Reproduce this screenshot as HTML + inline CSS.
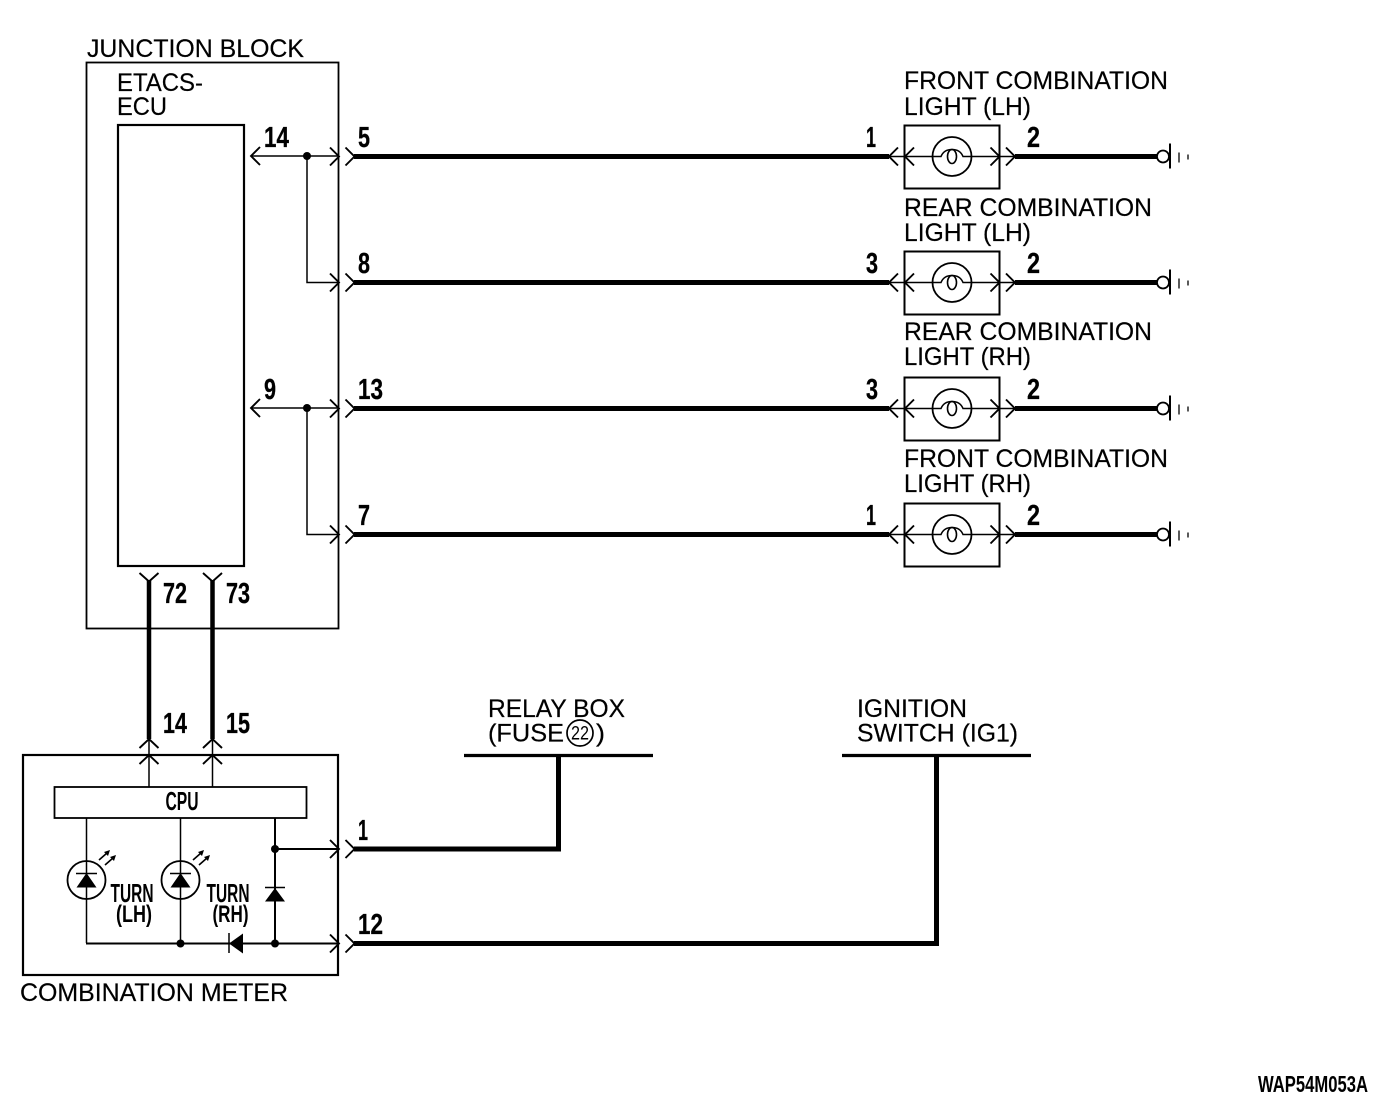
<!DOCTYPE html>
<html><head><meta charset="utf-8"><style>
html,body{margin:0;padding:0;background:#fff}
svg{display:block}
.t{font-family:"Liberation Sans",sans-serif;font-size:25px;fill:#000;stroke:#000;stroke-width:.2}
.n{font-family:"Liberation Sans",sans-serif;font-size:28.500px;font-weight:bold;fill:#000;stroke:#000;stroke-width:.3}
.s{font-family:"Liberation Sans",sans-serif;font-size:26px;font-weight:bold;fill:#000}
</style></head><body>
<svg width="1392" height="1114" viewBox="0 0 1392 1114" xmlns="http://www.w3.org/2000/svg">
<defs>
<g id="ar" fill="none" stroke="#000" stroke-width="1.900"><path d="M-9-9L0 0L-9 9"/></g>
<g id="al" fill="none" stroke="#000" stroke-width="1.900"><path d="M9-9L0 0L9 9"/></g>
<g id="lamp">
<rect x="904.500" y="-31" width="95" height="63" fill="#fff" stroke="#000" stroke-width="2"/>
<path d="M889 0H1015" stroke="#000" stroke-width="1.400" fill="none"/>
<circle cx="952" cy="0" r="19.500" fill="#fff" stroke="#000" stroke-width="1.800"/>
<path d="M932.500 0H941C943-5 947-7 952-7C957-7 961-5 963 0H971.500" fill="none" stroke="#000" stroke-width="1.500"/>
<ellipse cx="952" cy="0" rx="4.500" ry="7" fill="none" stroke="#000" stroke-width="1.600"/>
<use href="#al" x="889"/><use href="#al" x="905"/><use href="#ar" x="999.500"/><use href="#ar" x="1015"/>
<path d="M1015 0H1158" stroke="#000" stroke-width="5"/>
<circle cx="1163" cy="0" r="6" fill="#fff" stroke="#000" stroke-width="1.800"/>
<path d="M1170-13V12" stroke="#000" stroke-width="2"/>
<path d="M1179-4V6M1188-2V3" stroke="#000" stroke-width="1.300"/>
</g>
<g id="wire">
<use href="#ar" x="339"/><use href="#ar" x="354.500"/>
<path d="M354 0H889" stroke="#000" stroke-width="5"/>
</g>
</defs>
<rect width="1392" height="1114" fill="#fff"/>

<rect x="86.500" y="62.500" width="252" height="566" fill="none" stroke="#000" stroke-width="1.800"/>
<rect x="118" y="125" width="126" height="441" fill="none" stroke="#000" stroke-width="2.200"/>
<text class="t" x="87" y="57" textLength="217" lengthAdjust="spacingAndGlyphs">JUNCTION BLOCK</text>
<text class="t" x="117" y="91" textLength="86" lengthAdjust="spacingAndGlyphs">ETACS-</text>
<text class="t" x="117" y="115" textLength="50" lengthAdjust="spacingAndGlyphs">ECU</text>

<g stroke="#000" stroke-width="1.500" fill="none">
<path d="M251 156H339M307 156V282.500H339M251 408H339M307 408V534.500H339"/>
</g>
<circle cx="307" cy="156" r="4"/><circle cx="307" cy="408" r="4"/>
<use href="#al" x="251" y="156"/><use href="#al" x="251" y="408"/>

<use href="#wire" y="156.500"/><use href="#wire" y="282.500"/><use href="#wire" y="408.500"/><use href="#wire" y="534.500"/>
<use href="#lamp" y="156.500"/><use href="#lamp" y="282.500"/><use href="#lamp" y="408.500"/><use href="#lamp" y="534.500"/>

<text class="n" x="264" y="147" textLength="25" lengthAdjust="spacingAndGlyphs">14</text>
<text class="n" x="358" y="147" textLength="12" lengthAdjust="spacingAndGlyphs">5</text>
<text class="n" x="358" y="273" textLength="12" lengthAdjust="spacingAndGlyphs">8</text>
<text class="n" x="264" y="399" textLength="12" lengthAdjust="spacingAndGlyphs">9</text>
<text class="n" x="358" y="399" textLength="25" lengthAdjust="spacingAndGlyphs">13</text>
<text class="n" x="358" y="525" textLength="12" lengthAdjust="spacingAndGlyphs">7</text>
<text class="n" x="866" y="147" textLength="10" lengthAdjust="spacingAndGlyphs">1</text>
<text class="n" x="866" y="273" textLength="12" lengthAdjust="spacingAndGlyphs">3</text>
<text class="n" x="866" y="399" textLength="12" lengthAdjust="spacingAndGlyphs">3</text>
<text class="n" x="866" y="525" textLength="10" lengthAdjust="spacingAndGlyphs">1</text>
<text class="n" x="1027" y="147" textLength="13" lengthAdjust="spacingAndGlyphs">2</text>
<text class="n" x="1027" y="273" textLength="13" lengthAdjust="spacingAndGlyphs">2</text>
<text class="n" x="1027" y="399" textLength="13" lengthAdjust="spacingAndGlyphs">2</text>
<text class="n" x="1027" y="525" textLength="13" lengthAdjust="spacingAndGlyphs">2</text>

<text class="t" x="904" y="89" textLength="264" lengthAdjust="spacingAndGlyphs">FRONT COMBINATION</text>
<text class="t" x="904" y="115" textLength="127" lengthAdjust="spacingAndGlyphs">LIGHT (LH)</text>
<text class="t" x="904" y="216" textLength="248" lengthAdjust="spacingAndGlyphs">REAR COMBINATION</text>
<text class="t" x="904" y="241" textLength="127" lengthAdjust="spacingAndGlyphs">LIGHT (LH)</text>
<text class="t" x="904" y="340" textLength="248" lengthAdjust="spacingAndGlyphs">REAR COMBINATION</text>
<text class="t" x="904" y="365" textLength="127" lengthAdjust="spacingAndGlyphs">LIGHT (RH)</text>
<text class="t" x="904" y="467" textLength="264" lengthAdjust="spacingAndGlyphs">FRONT COMBINATION</text>
<text class="t" x="904" y="492" textLength="127" lengthAdjust="spacingAndGlyphs">LIGHT (RH)</text>

<!-- vertical links -->
<path d="M149 580V739M212.500 580V739" stroke="#000" stroke-width="4.500"/>
<path d="M139.500 573L149 581.500L158.500 573M203 573L212.500 581.500L222 573" fill="none" stroke="#000" stroke-width="1.900"/>
<path d="M139.500 748L149 739L158.500 748M203 748L212.500 739L222 748" fill="none" stroke="#000" stroke-width="1.900"/>
<path d="M139.500 764L149 755L158.500 764M203 764L212.500 755L222 764" fill="none" stroke="#000" stroke-width="1.900"/>
<path d="M149 739V787M212.500 739V787" stroke="#000" stroke-width="1.500"/>
<text class="n" x="163" y="603" textLength="24" lengthAdjust="spacingAndGlyphs">72</text>
<text class="n" x="226" y="603" textLength="24" lengthAdjust="spacingAndGlyphs">73</text>
<text class="n" x="163" y="733" textLength="24" lengthAdjust="spacingAndGlyphs">14</text>
<text class="n" x="226" y="733" textLength="24" lengthAdjust="spacingAndGlyphs">15</text>

<!-- combination meter -->
<rect x="23" y="755" width="315" height="220" fill="none" stroke="#000" stroke-width="2.200"/>
<rect x="54.500" y="787" width="252" height="31" fill="none" stroke="#000" stroke-width="1.800"/>
<text class="s" x="165.500" y="810" textLength="33" lengthAdjust="spacingAndGlyphs">CPU</text>
<text class="t" x="20" y="1001" textLength="268" lengthAdjust="spacingAndGlyphs">COMBINATION METER</text>
<path d="M86.500 818V943M180.500 818V943" stroke="#000" stroke-width="1.500" fill="none"/>
<path d="M86 943.500H339" stroke="#000" stroke-width="2"/>
<path d="M275 818V943M275 849H339" stroke="#000" stroke-width="2" fill="none"/>
<circle cx="275" cy="849" r="4"/><circle cx="275" cy="943.500" r="4"/><circle cx="180.500" cy="943.500" r="4"/>
<circle cx="86.500" cy="880" r="19" fill="none" stroke="#000" stroke-width="1.800"/>
<circle cx="180.500" cy="880" r="19" fill="none" stroke="#000" stroke-width="1.800"/>
<path d="M76.500 887.500H96.500L86.500 873ZM170.500 887.500H190.500L180.500 873ZM265 901.500H285L275 888Z"/>
<path d="M76 873.500H97M170 873.500H191M265 887.500H285M229 933V953" stroke="#000" stroke-width="1.500" fill="none"/>
<path d="M229 943.500L243 933.500V953.500Z"/>
<path d="M99 860L107 853M105 865L113 858M193 860L201 853M199 865L207 858" stroke="#000" stroke-width="1.600" fill="none"/>
<path d="M110 850L104 852L108 856ZM116 855L110 857L114 861ZM204 850L198 852L202 856ZM210 855L204 857L208 861Z"/>
<text class="s" x="110.500" y="902" textLength="43" lengthAdjust="spacingAndGlyphs">TURN</text>
<text class="s" x="116" y="922" textLength="36" lengthAdjust="spacingAndGlyphs" style="font-size:24px">(LH)</text>
<text class="s" x="206.500" y="902" textLength="43" lengthAdjust="spacingAndGlyphs">TURN</text>
<text class="s" x="212.500" y="922" textLength="36" lengthAdjust="spacingAndGlyphs" style="font-size:24px">(RH)</text>

<use href="#ar" x="339" y="849"/><use href="#ar" x="354.500" y="849"/>
<use href="#ar" x="339" y="943.500"/><use href="#ar" x="354.500" y="943.500"/>
<path d="M354 849H558.500V756" fill="none" stroke="#000" stroke-width="5"/>
<path d="M354 943.500H936.500V756" fill="none" stroke="#000" stroke-width="5"/>
<path d="M464 755.500H653M842 755.500H1031" stroke="#000" stroke-width="3.200"/>
<text class="n" x="358" y="840" textLength="10" lengthAdjust="spacingAndGlyphs">1</text>
<text class="n" x="358" y="934" textLength="25" lengthAdjust="spacingAndGlyphs">12</text>

<text class="t" x="488" y="717" textLength="137" lengthAdjust="spacingAndGlyphs">RELAY BOX</text>
<text class="t" x="488" y="741.500" textLength="76" lengthAdjust="spacingAndGlyphs">(FUSE</text>
<circle cx="580" cy="733" r="13" fill="none" stroke="#000" stroke-width="1.700"/>
<text x="571" y="739.500" font-family="Liberation Sans, sans-serif" font-size="19" textLength="18" lengthAdjust="spacingAndGlyphs">22</text>
<text class="t" x="596" y="741.500" textLength="9" lengthAdjust="spacingAndGlyphs">)</text>
<text class="t" x="857" y="717" textLength="110" lengthAdjust="spacingAndGlyphs">IGNITION</text>
<text class="t" x="857" y="741.500" textLength="161" lengthAdjust="spacingAndGlyphs">SWITCH (IG1)</text>

<text class="s" x="1258" y="1092" textLength="110" lengthAdjust="spacingAndGlyphs" style="font-size:23px">WAP54M053A</text>
</svg>
</body></html>
